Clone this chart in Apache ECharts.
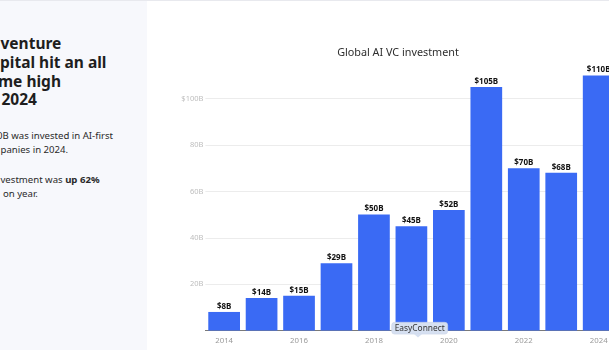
<!DOCTYPE html>
<html>
<head>
<meta charset="utf-8">
<script src="https://cdn.jsdelivr.net/npm/echarts@6/dist/echarts.min.js"></script>
<style>
  html, body { margin: 0; padding: 0; width: 609px; height: 350px; overflow: hidden; background: #fff; }
  #chart { position: absolute; left: 0; top: 0; width: 640px; height: 350px; }
  #panel { position: absolute; left: 0; top: 0; width: 147px; height: 350px; background: #f7f8fc; overflow: hidden; font-family: "Noto Sans", sans-serif; color: #1e1e1e; }
  #topline { position: absolute; left: 0; top: 0; width: 609px; height: 1px; background: #e8e9ee; z-index: 3; }
  .h { position: absolute; font-weight: 700; font-size: 15.5px; line-height: 18px; white-space: nowrap; }
  .p { position: absolute; font-size: 9.6px; line-height: 13px; white-space: nowrap; color: #2a2a2a; }
</style>
</head>
<body>
<div id="chart"></div>
<div id="panel">
  <div class="h" style="left:0.5px; top:34px;">venture</div>
  <div class="h" style="left:0px; top:53px;">pital hit an all</div>
  <div class="h" style="left:-2px; top:72px;">me high</div>
  <div class="h" style="left:1.5px; top:90px;">2024</div>
  <div class="p" style="left:-3px; top:128.5px;">0B was invested in AI-first</div>
  <div class="p" style="left:0.5px; top:142.5px;">panies in 2024.</div>
  <div class="p" style="left:0.5px; top:172.5px;">vestment was <b>up 62%</b></div>
  <div class="p" style="left:3px; top:186.5px;">on year.</div>
</div>
<div id="topline"></div>
<script>
// Global AI venture capital investment, USD billions
const years = ['2014', '2015', '2016', '2017', '2018', '2019', '2020', '2021', '2022', '2023', '2024'];
const investment = [8, 14, 15, 29, 50, 45, 52, 105, 70, 68, 110];
const chartTitle = 'Global AI VC investment';

const chart = echarts.init(document.getElementById('chart'), null, { renderer: 'canvas' });
const font = '"Noto Sans", sans-serif';

chart.setOption({
  animation: false,
  backgroundColor: 'transparent',
  grid: { left: 205.4, top: 52.3, width: 412, height: 278.2, containLabel: false },
  xAxis: {
    type: 'category',
    data: years,
    axisLine: { show: true, lineStyle: { color: '#7a7a7a', width: 1 } },
    axisTick: { show: false },
    axisLabel: { interval: 1, color: '#9a9a9a', fontSize: 7.8, fontFamily: font, margin: 6 }
  },
  yAxis: {
    type: 'value',
    min: 0,
    max: 120,
    interval: 20,
    axisLine: { show: false },
    axisTick: { show: false },
    splitLine: { show: true, showMaxLine: false, lineStyle: { color: '#ececec', width: 1 } },
    axisLabel: {
      showMinLabel: false,
      showMaxLabel: false,
      color: '#bdbdbd',
      fontSize: 7.5,
      fontFamily: font,
      margin: 2,
      formatter: v => (v === 100 ? '$' + v + 'B' : v + 'B')
    }
  },
  series: [{
    type: 'bar',
    data: investment,
    barWidth: 31.7,
    itemStyle: { color: '#3a6af4' },
    label: {
      show: true,
      position: 'top',
      distance: 1.5,
      color: '#111',
      fontWeight: 'bold',
      fontSize: 8,
      fontFamily: font,
      formatter: p => '$' + p.value + 'B'
    }
  }],
  graphic: [
    {
      type: 'text',
      x: 398, y: 52.7,
      style: { text: chartTitle, fill: '#2e2e2e', font: '10.8px "Noto Sans", sans-serif', align: 'center', verticalAlign: 'middle' }
    },
    {
      type: 'group',
      z: 100,
      children: [
        { type: 'rect', shape: { x: 391.7, y: 322.3, width: 56, height: 11.8, r: 3 }, style: { fill: '#d6e0f1', stroke: '#c9d4e8', lineWidth: 0.6 }, z: 100 },
        { type: 'polygon', shape: { points: [[414, 334], [422, 334], [418, 337.6]] }, style: { fill: '#d6e0f1' }, z: 101 },
        { type: 'text', x: 419.7, y: 328.3, style: { text: 'EasyConnect', fill: '#333', font: '8.4px "Noto Sans", sans-serif', align: 'center', verticalAlign: 'middle' }, z: 102 }
      ]
    }
  ]
});
</script>
</body>
</html>
